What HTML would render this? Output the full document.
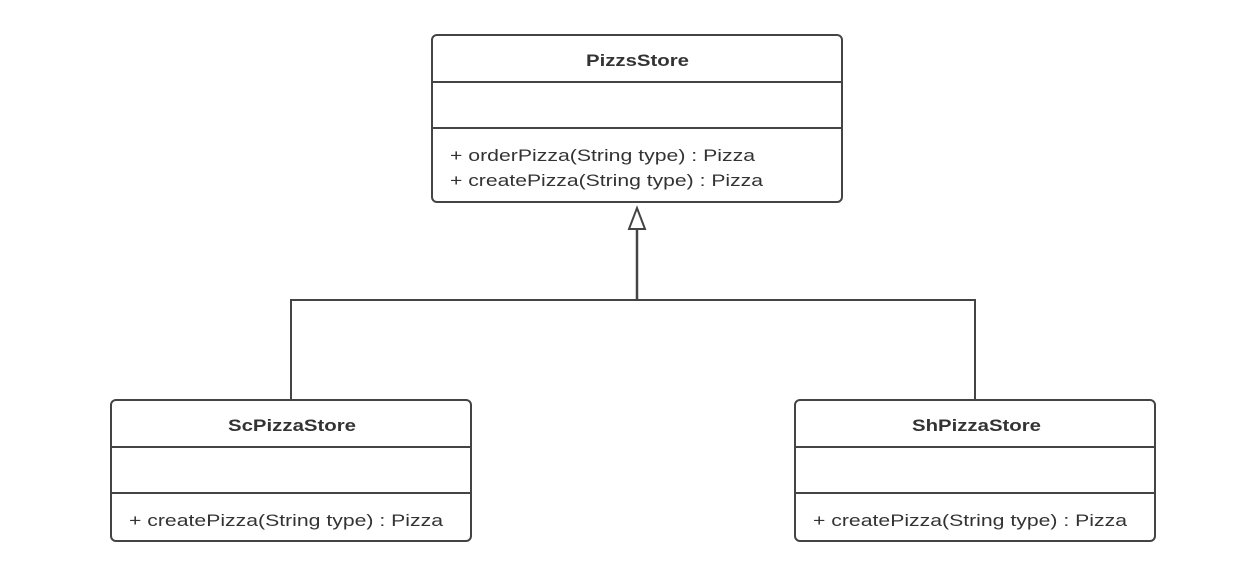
<!DOCTYPE html>
<html><head><style>body{margin:0;background:#fff}</style></head><body>
<svg width="1236" height="578" xmlns="http://www.w3.org/2000/svg" font-family="Liberation Sans, sans-serif" fill="none">
<g stroke="#444" stroke-width="2">
<rect x="432" y="35" width="410" height="167" rx="5"/>
<line x1="432" y1="82" x2="842" y2="82"/><line x1="432" y1="128" x2="842" y2="128"/>
<rect x="111" y="400" width="360" height="141" rx="5"/>
<line x1="111" y1="447" x2="471" y2="447"/><line x1="111" y1="493" x2="471" y2="493"/>
<rect x="795" y="400" width="360" height="141" rx="5"/>
<line x1="795" y1="447" x2="1155" y2="447"/><line x1="795" y1="493" x2="1155" y2="493"/>
<polyline points="291,400 291,300 975,300 975,400"/>
<line x1="637" y1="229" x2="637" y2="300" stroke-width="2.5"/>
<polygon points="637,208 629,229 645,229" fill="#fff"/>
</g>
<g fill="#333" font-size="17" lengthAdjust="spacingAndGlyphs">
<text x="586" y="66" font-weight="bold" textLength="103" lengthAdjust="spacingAndGlyphs">PizzsStore</text>
<text x="450" y="161" textLength="305" lengthAdjust="spacingAndGlyphs">+ orderPizza(String type) : Pizza</text>
<text x="450" y="186" textLength="313" lengthAdjust="spacingAndGlyphs">+ createPizza(String type) : Pizza</text>
<text x="228" y="431" font-weight="bold" textLength="128" lengthAdjust="spacingAndGlyphs">ScPizzaStore</text>
<text x="129" y="526" textLength="314" lengthAdjust="spacingAndGlyphs">+ createPizza(String type) : Pizza</text>
<text x="912" y="431" font-weight="bold" textLength="129" lengthAdjust="spacingAndGlyphs">ShPizzaStore</text>
<text x="813" y="526" textLength="314" lengthAdjust="spacingAndGlyphs">+ createPizza(String type) : Pizza</text>
</g>
</svg>
</body></html>
